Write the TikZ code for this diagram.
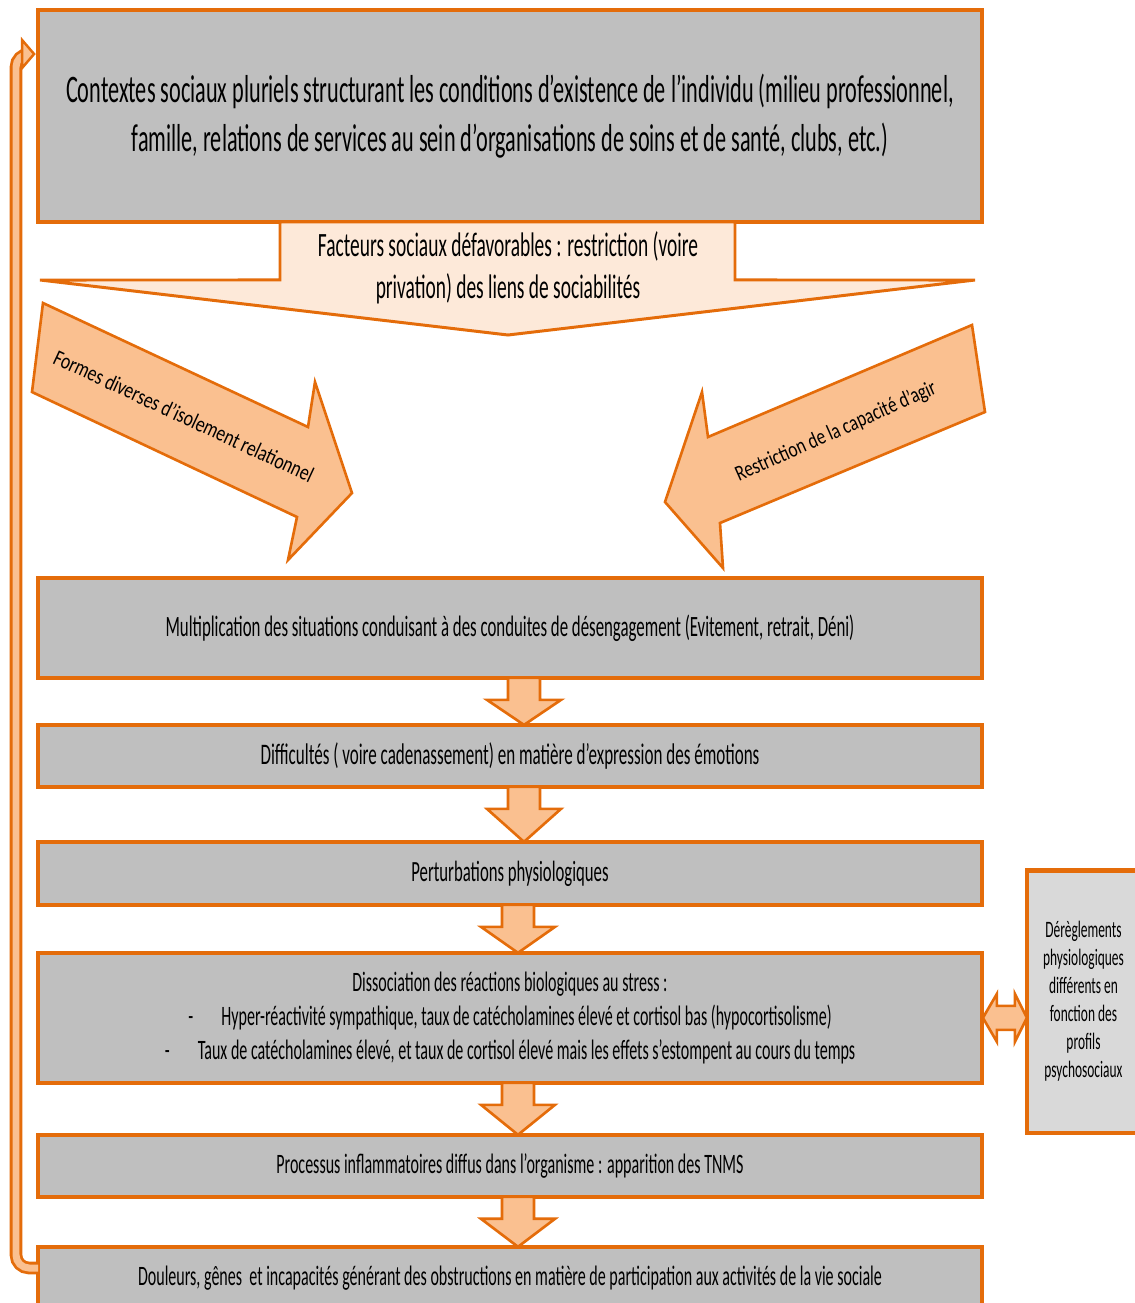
\documentclass[tikz,border=0pt]{standalone}
\usepackage{fontspec}
\setmainfont{Carlito}[FakeStretch=0.57]
\newfontfamily\diagfont{Carlito}[FakeStretch=0.78]
\usetikzlibrary{positioning,calc}

\definecolor{orangeb}{HTML}{E46C0A}
\definecolor{grisb}{HTML}{BFBFBF}
\definecolor{grisc}{HTML}{D9D9D9}
\definecolor{peche}{HTML}{FAC090}
\definecolor{peau}{HTML}{FDE9D9}

\tikzset{
  cadre/.style={draw=orangeb, line width=2pt, fill=grisb, outer sep=0pt,
    minimum width=18.88cm, align=center,
    font=\fontsize{16}{20}\selectfont},
  fleche/.style={draw=orangeb, line width=1.5pt, fill=peche},
  retour/.style={draw=orangeb, line width=1.6pt, double=peche,
    double distance=0.14cm, rounded corners=0.26cm},
}

% small down arrow: #1 from, #2 to, #3 x offset
\newcommand\flechebas[3]{%
  \draw[fleche] ($(#1.south)+(#3-16,0)$) -- ++(0,22) -- ++(-21,0)
    -- ($(#2.north)+(#3,0)$) -- ($(#1.south)+(#3+37,22)$) -- ++(-21,0)
    -- ($(#1.south)+(#3+16,0)$) -- cycle;}

\begin{document}
\begin{tikzpicture}[x=0.02cm, y=-0.02cm]
    \useasboundingbox (0,0) rectangle (1135,1303);
    % Add the boxes
    \node[cadre,
          minimum height=4.24cm,
          font=\fontsize{22.2}{27.5}\selectfont] (contextes) at (510,116)
          {Contextes sociaux pluriels structurant les conditions d’existence de l’individu (milieu professionnel,\\
           famille, relations de services au sein d’organisations de soins et de santé, clubs, etc.)};
    \node[cadre,
          below=7.12cm of contextes,
          minimum height=2cm,
          font=\fontsize{16.8}{20}\selectfont] (desengagement)
          {Multiplication des situations conduisant à des conduites de désengagement (Evitement, retrait, Déni)};
    \node[cadre,
          below=0.94cm of desengagement,
          minimum height=1.24cm,
          font=\fontsize{17}{20}\selectfont] (emotions)
          {Difficultés ( voire cadenassement) en matière d’expression des émotions};
    \node[cadre,
          below=1.1cm of emotions,
          minimum height=1.26cm,
          font=\fontsize{16.7}{20}\selectfont] (perturbations)
          {Perturbations physiologiques};
    \node[cadre,
          below=0.96cm of perturbations,
          minimum height=2.6cm,
          font=\fontsize{16}{19.3}\selectfont] (dissociation)
          {Dissociation des réactions biologiques au stress :\\
           -\quad Hyper-réactivité sympathique, taux de catécholamines élevé et cortisol bas (hypocortisolisme)\\
           -\quad Taux de catécholamines élevé, et taux de cortisol élevé mais les effets s’estompent au cours du temps};
    \node[cadre,
          below=1.04cm of dissociation,
          minimum height=1.24cm] (inflammation)
          {Processus inflammatoires diffus dans l’organisme : apparition des TNMS};
    \node[cadre,
          below=1cm of inflammation,
          minimum height=1.24cm] (douleurs)
          {Douleurs, gênes\ \ et incapacités générant des obstructions en matière de participation aux activités de la vie sociale};
    \node[cadre,
          fill=grisc,
          line width=2.8pt,
          minimum width=2.26cm,
          minimum height=5.26cm,
          font=\fontsize{13.4}{15.9}\selectfont] (profils) at (1083.5,1001.5)
          {Dérèglements\\ physiologiques\\ différents en\\ fonction des\\ profils\\ psychosociaux};

    % Big arrow under the first box
    \draw[fleche, fill=peau, line width=1.7pt]
        ($(contextes.south)+(-230,0)$) -- ++(0,58) -- (40,280) -- (508,335)
        -- (975,280) -- ($(contextes.south)+(225,58)$) -- ($(contextes.south)+(225,0)$) -- cycle;
    \node[font=\fontsize{19.4}{23.9}\selectfont, align=center] (facteurs) at (508,268)
        {Facteurs sociaux défavorables : restriction (voire\\ privation) des liens de sociabilités};

    % Side arrows
    \draw[fleche] (43,303) -- (308,427) -- (315,382) -- (352,493)
        -- (288,560) -- (297,517) -- (32,392) -- cycle;
    \node[rotate=-25, font=\diagfont\fontsize{12.8}{15}\selectfont] (isolement) at (184,416)
        {Formes diverses d’isolement relationnel};
    \draw[fleche] (972,325) -- (708,437) -- (702,392) -- (665,502)
        -- (723,568) -- (720,523) -- (985,412) -- cycle;
    \node[rotate=24, font=\diagfont\fontsize{12.6}{15}\selectfont] (capacite) at (836,432)
        {Restriction de la capacité d’agir};

    % Connect the boxes with arrows
    \flechebas{desengagement}{emotions}{14}
    \flechebas{emotions}{perturbations}{14}
    \flechebas{perturbations}{dissociation}{8}
    \flechebas{dissociation}{inflammation}{8}
    \flechebas{inflammation}{douleurs}{8}
    \draw[fleche] ($(dissociation.east)+(1,0)$) -- ++(14,-24) -- ++(0,12) -- ++(18,0)
        -- ++(0,-12) -- ++(12,24) -- ++(-12,24) -- ++(0,-12) -- ++(-18,0)
        -- ++(0,12) -- cycle;

    % Feedback loop
    \coordinate (bas) at (16,1268);
    \coordinate (haut) at (16,54);
    \draw[retour] (douleurs.west |- bas) -- (bas) -- (haut) -- ($(contextes.west |- haut)+(-14,0)$);
    \draw[fleche, line width=1.4pt] ($(contextes.west |- haut)+(-16,-14)$) -- ($(contextes.west |- haut)+(-4,0)$)
        -- ($(contextes.west |- haut)+(-16,14)$) -- cycle;
\end{tikzpicture}
\end{document}
